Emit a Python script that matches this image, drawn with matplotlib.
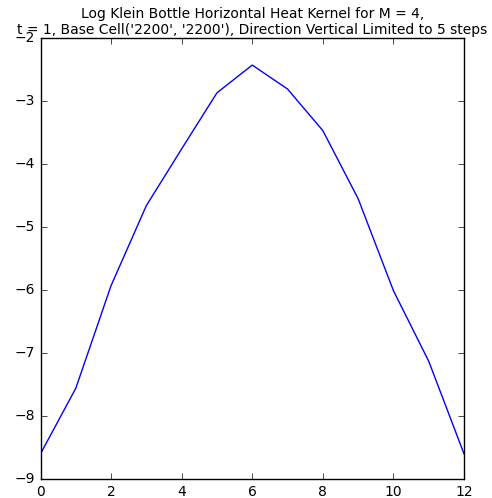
import matplotlib
matplotlib.use("Agg")
import matplotlib.pyplot as plt

plt.style.use('classic')

x_vals = [0, 1, 2, 3, 4, 5, 6, 7, 8, 9, 10, 11, 12]
y_vals = [-8.60, -7.56, -5.93, -4.66, -3.76, -2.87, -2.43, -2.81, -3.47, -4.55, -6.01, -7.13, -8.60]

fig = plt.figure(figsize=(4.92, 4.98), dpi=100)
ax = fig.add_axes([40.5/492, 19/498, 423.5/492, 441/498])
ax.plot(x_vals, y_vals, color='b', linewidth=1)
ax.set_xlim(0, 12)
ax.set_ylim(-9, -2)
ax.set_title("Log Klein Bottle Horizontal Heat Kernel for M = 4,\nt = 1, Base Cell('2200', '2200'), Direction Vertical Limited to 5 steps",
             fontsize=10, pad=3)
ax.tick_params(labelsize=10)
fig.savefig("out.png", dpi=100)
